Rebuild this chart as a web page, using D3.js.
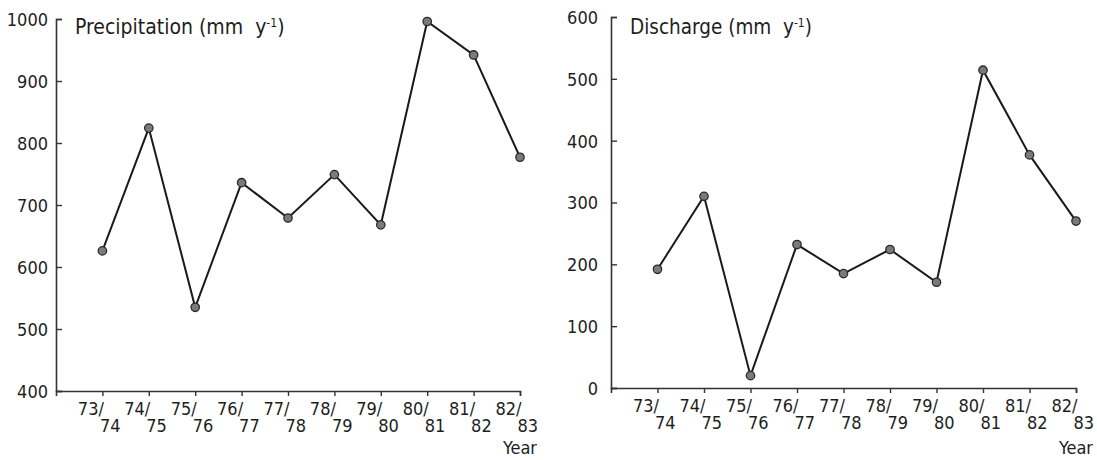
<!DOCTYPE html>
<html>
<head>
<meta charset="utf-8">
<script src="https://cdn.jsdelivr.net/npm/d3@7"></script>
<style>
  html, body { margin: 0; padding: 0; background: #fff; }
  svg { display: block; }
  text { font-family: "DejaVu Sans Condensed", "DejaVu Sans", sans-serif; fill: #1e1e1e; }
</style>
</head>
<body>
<svg id="chart" width="1097" height="460"></svg>
<script>
// Hydrological years
const seasons = ["73/74", "74/75", "75/76", "76/77", "77/78", "78/79", "79/80", "80/81", "81/82", "82/83"];
// Annual precipitation (mm per year)
const precipitation = [626, 824, 535, 736, 679, 749, 668, 996, 942, 777];
// Annual discharge (mm per year)
const discharge = [192, 310, 20, 232, 185, 224, 171, 514, 377, 270];
// Y-axis tick values
const precipTicks = [400, 500, 600, 700, 800, 900, 1000];
const dischargeTicks = [0, 100, 200, 300, 400, 500, 600];

const svg = d3.select("#chart");

function drawPanel(opt) {
  const g = svg.append("g");
  // index -1 is the empty slot at the origin; the last season sits at the axis end
  const x = d3.scaleLinear().domain([-1, seasons.length - 1]).range([opt.left, opt.right]);
  const y = d3.scaleLinear().domain(opt.domain).range([opt.bottom, opt.top]);

  // y axis: ticks pointing inward
  const yAxis = d3.axisLeft(y).tickValues(opt.ticks).tickSize(-6).tickPadding(opt.labelGap).tickFormat(d3.format("d"));
  const ya = g.append("g").attr("transform", `translate(${opt.left},0)`).call(yAxis);
  ya.select(".domain").attr("stroke", "#333").attr("stroke-width", 1.6);
  ya.selectAll(".tick line").attr("stroke", "#333").attr("stroke-width", 1.4);
  ya.selectAll(".tick text").style("font-size", "18px").attr("dy", "0.36em");

  // x axis: ticks pointing down, two-line season labels
  const xAxis = d3.axisBottom(x).tickValues(d3.range(seasons.length)).tickSize(5).tickFormat("");
  const xa = g.append("g").attr("transform", `translate(0,${opt.bottom})`).call(xAxis);
  xa.select(".domain").attr("stroke", "#333").attr("stroke-width", 1.6);
  xa.selectAll(".tick line").attr("stroke", "#333").attr("stroke-width", 1.4);
  xa.selectAll(".tick").each(function (d) {
    const parts = seasons[d].split("/");
    const t = d3.select(this);
    t.append("text").attr("x", 1).attr("y", 24).attr("text-anchor", "end")
      .style("font-size", "18px").text(parts[0] + "/");
    t.append("text").attr("x", -3).attr("y", 41).attr("text-anchor", "start")
      .style("font-size", "18px").text(parts[1]);
  });

  g.append("text").attr("x", opt.right + 17).attr("y", 454).attr("text-anchor", "end")
    .style("font-size", "18px").text("Year");

  // panel title with superscript unit
  const title = g.append("text").attr("x", opt.left + 19).attr("y", 34).style("font-size", opt.titleSize);
  title.append("tspan").text(opt.title + " (mm\u00a0\u00a0y");
  title.append("tspan").attr("dy", -7).style("font-size", "12px").text("-1");
  title.append("tspan").attr("dy", 7).text(")");

  const line = d3.line().x((d, i) => x(i)).y(d => y(d));
  g.append("path").datum(opt.values).attr("d", line)
    .attr("fill", "none").attr("stroke", "#1a1a1a").attr("stroke-width", 2).attr("stroke-linejoin", "miter");

  g.selectAll("circle.pt").data(opt.values).join("circle").attr("class", "pt")
    .attr("cx", (d, i) => x(i)).attr("cy", d => y(d)).attr("r", 4.2)
    .attr("fill", "#7a7a7a").attr("stroke", "#2a2a2a").attr("stroke-width", 1.3);
}

drawPanel({
  left: 56, right: 520, top: 19, bottom: 391, labelGap: 8,
  domain: [400, 1000], ticks: precipTicks, values: precipitation,
  title: "Precipitation", titleSize: "21px"
});

drawPanel({
  left: 611, right: 1076, top: 17, bottom: 388, labelGap: 13,
  domain: [0, 600], ticks: dischargeTicks, values: discharge,
  title: "Discharge", titleSize: "20.5px"
});
</script>
</body>
</html>
